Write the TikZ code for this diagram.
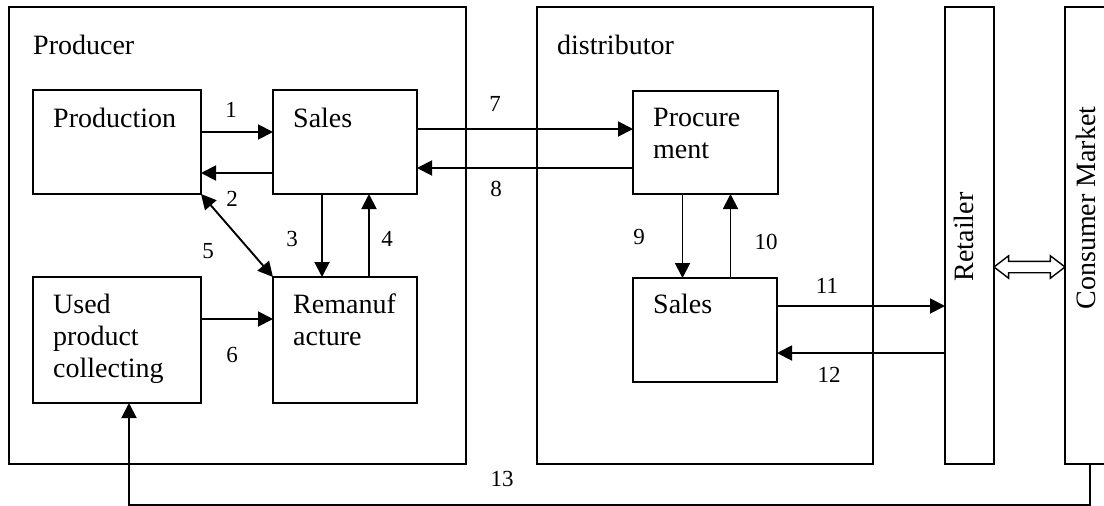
\documentclass[tikz,border=0pt]{standalone}
\usepackage{fontspec}
\setmainfont{Liberation Serif}
\usetikzlibrary{arrows.meta,shapes.arrows}

\tikzset{
  box/.style={draw,line width=1.9pt,inner sep=0pt,outer sep=0pt},
  txt/.style={anchor=base west,align=left,inner sep=0pt,font=\fontsize{28}{32}\selectfont},
  side/.style={rotate=90,inner sep=0pt,font=\fontsize{28}{32}\selectfont},
  num/.style={inner sep=0pt,font=\fontsize{23}{25}\selectfont},
  flow/.style={line width=1.9pt,-{Triangle[length=15pt,width=15pt]}},
  twoway/.style={line width=1.9pt,{Triangle[length=15pt,width=15pt]}-{Triangle[length=15pt,width=15pt]}}
}

\begin{document}
\begin{tikzpicture}[x=1pt,y=-1pt]
  \useasboundingbox (0,0) rectangle (1104,506);

  % frames
  \node [box,minimum width=457pt,minimum height=457pt] (producer) at (237.5,235.5) {};
  \node [box,minimum width=336pt,minimum height=457pt] (distributor) at (705,235.5) {};
  \node [box,minimum width=49pt,minimum height=457pt] (ret) at (969.5,235.5) {};
  \node [box,minimum width=80pt,minimum height=457pt] (cons) at (1105,235.5) {};
  \node [txt] (producertext) at (33,54) {Producer};
  \node [txt] (distributortext) at (557,54) {distributor};
  \node [side] (rettext) at (964,237) {Retailer};
  \node [side] (constext) at (1086,208) {Consumer Market};

  % inner boxes
  \node [box,minimum width=168pt,minimum height=104pt] (prod) at (117,142) {};
  \node [box,minimum width=144pt,minimum height=104pt] (psales) at (345,142) {};
  \node [box,minimum width=168pt,minimum height=126pt] (used) at (117,340) {};
  \node [box,minimum width=144pt,minimum height=126pt] (reman) at (345,340) {};
  \node [box,minimum width=145pt,minimum height=103pt] (proc) at (705.5,142.5) {};
  \node [box,minimum width=144pt,minimum height=104pt] (dsales) at (705,330) {};

  % base of the last line
  \node [txt] (prodtext) at (53,127) {Production};
  \node [txt] (psalestext) at (293,127) {Sales};
  \node [txt] (usedtext) at (53,377) {Used\\product\\collecting};
  \node [txt] (remantext) at (293,345) {Remanuf\\acture};
  \node [txt] (proctext) at (653,158) {Procure\\ment};
  \node [txt] (dsalestext) at (653,313) {Sales};

  % flows
  \draw [flow] ([yshift=10pt]prod.east) -- ([yshift=10pt]psales.west);
  \draw [flow] ([yshift=-31pt]psales.west) -- ([yshift=-31pt]prod.east);
  \draw [flow] ([xshift=-23pt]psales.south) -- ([xshift=-23pt]reman.north);
  \draw [flow] ([xshift=24pt]reman.north) -- ([xshift=24pt]psales.south);
  \draw [twoway] (prod.south east) -- (reman.north west);
  \draw [flow] ([yshift=21pt]used.east) -- ([yshift=21pt]reman.west);
  \draw [flow] ([yshift=13pt]psales.east) -- ([yshift=13pt]psales.east -| proc.west);
  \draw [flow] ([yshift=-26pt]psales.east -| proc.west) -- ([yshift=-26pt]psales.east);
  \draw [flow] ([xshift=-23pt]proc.south) -- ([xshift=-23pt]proc.south |- dsales.north);
  \draw [flow] ([xshift=25pt]proc.south |- dsales.north) -- ([xshift=25pt]proc.south);
  \draw [flow] ([yshift=24pt]dsales.east) -- ([yshift=24pt]dsales.east -| ret.west);
  \draw [flow] ([yshift=-23pt]dsales.east -| ret.west) -- ([yshift=-23pt]dsales.east);
  \coordinate (bottom) at (0,505);
  \draw [flow] ([xshift=-15pt]cons.south) |- ([xshift=12pt]used.south |- bottom) -- ([xshift=12pt]used.south);

  \node [double arrow,draw,line width=1.4pt,minimum height=71pt,inner sep=5pt,
    double arrow head extend=5.5pt,double arrow tip angle=75] (link) at (1029.5,267) {};

  % numbers
  \node [num] (n1) at (231,110) {1};
  \node [num] (n2) at (232,199) {2};
  \node [num] (n3) at (292,239) {3};
  \node [num] (n4) at (387,239) {4};
  \node [num] (n5) at (208,251) {5};
  \node [num] (n6) at (232,355) {6};
  \node [num] (n7) at (495,104) {7};
  \node [num] (n8) at (496,189) {8};
  \node [num] (n9) at (639,237) {9};
  \node [num] (n10) at (766,242) {10};
  \node [num] (n11) at (827,286) {11};
  \node [num] (n12) at (829,375) {12};
  \node [num] (n13) at (502,479) {13};
\end{tikzpicture}
\end{document}
